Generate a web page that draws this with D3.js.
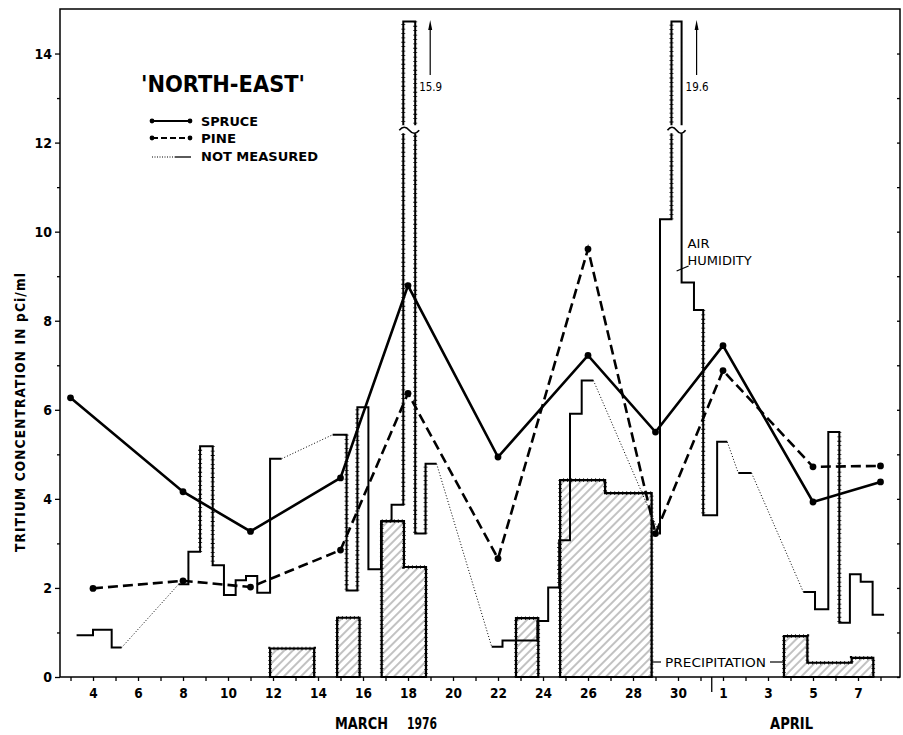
<!DOCTYPE html>
<html><head><meta charset="utf-8">
<script src="https://cdn.jsdelivr.net/npm/d3@7"></script>
<style>body{margin:0;background:#fff}svg{display:block}</style>
</head><body><svg id="c" width="903" height="735"></svg>
<script>
// Days are counted from 0 March 1976 (April 1 = 32)
const spruceDays   = [3, 8, 11, 15, 18, 22, 26, 29, 32, 36, 39];
const spruceValues = [6.27, 4.16, 3.27, 4.47, 8.79, 4.94, 7.22, 5.5, 7.44, 3.93, 4.38];
const pineDays     = [4, 8, 11, 15, 18, 22, 26, 29, 32, 36, 39];
const pineValues   = [1.99, 2.16, 2.02, 2.85, 6.37, 2.66, 9.61, 3.22, 6.88, 4.72, 4.74];

// Air humidity step series (start day, end day, value); gaps = not measured
const humStart = [3.27,4.0,4.83, 7.8,8.24,8.76,9.32,9.82,10.34,10.8,11.3,11.87,
  14.65,15.27,15.75,16.24,16.8,17.27,17.79,18.32,18.78,
  21.72,22.2,23.75,24.23,24.72,25.2,25.72,
  29.2,29.2,29.71,30.16,30.71,31.12,31.74, 32.68,
  35.57,36.09,36.68,37.17,37.64,38.12,38.65];
const humEnd = [4.0,4.83,5.27, 8.24,8.76,9.32,9.82,10.34,10.8,11.3,11.87,12.38,
  15.27,15.75,16.24,16.8,17.27,17.79,18.32,18.78,19.27,
  22.2,23.75,24.23,24.72,25.2,25.72,26.24,
  29.2,29.71,30.16,30.71,31.12,31.74,32.19, 33.27,
  36.09,36.68,37.17,37.64,38.12,38.65,39.16];
const humValue = [0.94,1.06,0.66, 2.08,2.81,5.18,2.51,1.84,2.17,2.27,1.89,4.9,
  5.44,1.94,6.06,2.42,3.5,3.87,15.9,3.22,4.79,
  0.68,0.82,1.26,2.01,3.07,5.91,6.66,
  3.2,10.28,19.6,8.86,8.24,3.63,5.28, 4.58,
  1.91,1.52,5.5,1.22,2.31,2.14,1.4];
const humTickedEdges = [8.76, 9.32, 15.27, 15.75, 17.79, 18.32, 18.78, 24.72, 29.71, 31.12, 37.17];

// Precipitation bars
const precStart = [11.87, 14.85, 16.83, 17.82, 22.8, 24.76, 26.76, 34.71, 35.75, 37.72];
const precEnd   = [13.83, 15.85, 17.82, 18.8, 23.79, 26.76, 28.83, 35.75, 37.72, 38.68];
const precValue = [0.64, 1.33, 3.5, 2.47, 1.32, 4.42, 4.13, 0.92, 0.32, 0.43];

const xTickDays   = [4,6,8,10,12,14,16,18,20,22,24,26,28,30,32,34,36,38];
const xTickLabels = ["4","6","8","10","12","14","16","18","20","22","24","26","28","30","1","3","5","7"];
const yTickValues = [0,2,4,6,8,10,12,14];

const FONT = '"DejaVu Sans Condensed","Liberation Sans Narrow","Liberation Sans",sans-serif';
const svg = d3.select('#c');
const x = d3.scaleLinear().domain([2.533, 39.867]).range([60, 900]);
const y = d3.scaleLinear().domain([0, 15]).range([677, 9]);
const CAP = 14.72, BREAK = 12.3;
const hy = v => y(Math.min(v, CAP));

// hatch
const defs = svg.append('defs');
const pat = defs.append('pattern').attr('id','hatch').attr('patternUnits','userSpaceOnUse')
  .attr('width',6).attr('height',6).attr('patternTransform','rotate(45)');
pat.append('line').attr('x1',1).attr('y1',0).attr('x2',1).attr('y2',6)
  .attr('stroke','#333').attr('stroke-width',0.6);

// frame
svg.append('rect').attr('x',x.range()[0]).attr('y',y.range()[1])
  .attr('width',x.range()[1]-x.range()[0]).attr('height',y.range()[0]-y.range()[1])
  .attr('fill','none').attr('stroke','#000').attr('stroke-width',1.5);

// axes
const gy = svg.append('g').attr('transform',`translate(${x.range()[0]},0)`)
  .call(d3.axisLeft(y).tickValues(yTickValues).tickSize(5).tickPadding(3).tickFormat(d3.format('d')));
const gy2 = svg.append('g').attr('transform',`translate(${x.range()[0]},0)`)
  .call(d3.axisLeft(y).tickValues(d3.range(1,15,2)).tickSize(3).tickFormat(''));
const gyr = svg.append('g').attr('transform',`translate(${x.range()[1]},0)`)
  .call(d3.axisLeft(y).tickValues(d3.range(0,15,1)).tickSize(3).tickFormat(''));
const gx = svg.append('g').attr('transform',`translate(0,${y.range()[0]})`)
  .call(d3.axisBottom(x).tickValues(xTickDays).tickSize(4).tickPadding(7).tickFormat((d,i)=>xTickLabels[i]));
const gx2 = svg.append('g').attr('transform',`translate(0,${y.range()[0]})`)
  .call(d3.axisBottom(x).tickValues(d3.range(3,40,2)).tickSize(4).tickFormat(''));
[gy,gy2,gyr,gx,gx2].forEach(g=>{
  g.select('.domain').remove();
  g.selectAll('line').attr('stroke','#000').attr('stroke-width',1.3);
  g.selectAll('text').attr('font-family',FONT).attr('fill','#000');
});
gy.selectAll('text').attr('font-size',14).attr('font-weight','bold');
gx.selectAll('text').attr('font-size',13.5).attr('font-weight','bold');
// month boundary tick
svg.append('line').attr('x1',x(31.5)).attr('x2',x(31.5)).attr('y1',y(0)).attr('y2',y(0)+15)
  .attr('stroke','#000').attr('stroke-width',1.3);

// precipitation
const groups = [];
precStart.forEach((s,i)=>{
  const b = {s, e:precEnd[i], v:precValue[i]};
  const g = groups[groups.length-1];
  if (g && Math.abs(g[g.length-1].e - s) < 0.02) g.push(b); else groups.push([b]);
});
const pl = d3.line().x(d=>x(d[0])).y(d=>y(d[1]));
groups.forEach(g=>{
  const pts = [[g[0].s,0]];
  g.forEach(b=>{ pts.push([b.s,b.v]); pts.push([b.e,b.v]); });
  pts.push([g[g.length-1].e,0]);
  svg.append('path').attr('d',pl(pts)+'Z').attr('fill','url(#hatch)')
    .attr('stroke','#000').attr('stroke-width',2.2);
  svg.append('path').attr('d',pl(pts)).attr('fill','none')
    .attr('stroke','#000').attr('stroke-width',3.6).attr('stroke-dasharray','0.8,3.2');
});

// air humidity
let solidD = '', run = false;
const dottedLinks = [];
const n = humStart.length;
for (let i=0;i<n;i++){
  const s=humStart[i], e=humEnd[i], v=humValue[i];
  solidD += (run ? 'L' : 'M') + x(s) + ',' + hy(v);
  solidD += 'L' + x(e) + ',' + hy(v);
  run = true;
  if (i<n-1 && Math.abs(humStart[i+1]-e) > 0.02){
    dottedLinks.push([[e,v],[humStart[i+1],humValue[i+1]]]);
    run = false;
  }
}
svg.append('path').attr('d',solidD).attr('fill','none').attr('stroke','#000')
  .attr('stroke-width',2).attr('stroke-linejoin','miter');
dottedLinks.forEach(l=>{
  svg.append('line').attr('x1',x(l[0][0])).attr('y1',hy(l[0][1]))
    .attr('x2',x(l[1][0])).attr('y2',hy(l[1][1]))
    .attr('stroke','#000').attr('stroke-width',1).attr('stroke-dasharray','1,2');
});
humTickedEdges.forEach(d=>{
  const i = humEnd.findIndex(e=>Math.abs(e-d)<0.02);
  if (i<0 || i>=n-1) return;
  svg.append('line').attr('x1',x(d)).attr('x2',x(d))
    .attr('y1',hy(humValue[i])).attr('y2',hy(humValue[i+1]))
    .attr('stroke','#000').attr('stroke-width',4).attr('stroke-dasharray','0.8,3.6');
});
// breaks & off-scale annotations
humValue.forEach((v,i)=>{
  if (v <= y.domain()[1]) return;
  const x0 = x(humStart[i]) - 4, x1 = x(humEnd[i]) + 4, yb = y(BREAK), w = x1-x0;
  svg.append('rect').attr('x',x0).attr('y',yb-4).attr('width',w).attr('height',8).attr('fill','#fff');
  svg.append('path').attr('d',`M${x0},${yb+1} q${w/4},-6 ${w/2},0 t${w/2},0`)
    .attr('fill','none').attr('stroke','#000').attr('stroke-width',1.6);
  const ax = x(humEnd[i]) + 15;
  svg.append('line').attr('x1',ax).attr('x2',ax).attr('y1',75).attr('y2',26)
    .attr('stroke','#000').attr('stroke-width',1.2);
  svg.append('path').attr('d',`M${ax-2},${30} L${ax},${20} L${ax+2},${30}Z`).attr('fill','#000');
  svg.append('text').attr('x',x(humEnd[i])+4).attr('y',91).text(d3.format('.1f')(v))
    .attr('font-family',FONT).attr('font-size',13).attr('textLength',23).attr('lengthAdjust','spacingAndGlyphs');
});

// spruce & pine
const line = d3.line().x(d=>x(d[0])).y(d=>y(d[1]));
const spr = spruceDays.map((d,i)=>[d,spruceValues[i]]);
const pin = pineDays.map((d,i)=>[d,pineValues[i]]);
svg.append('path').attr('d',line(spr)).attr('fill','none').attr('stroke','#000').attr('stroke-width',2.6);
svg.append('path').attr('d',line(pin)).attr('fill','none').attr('stroke','#000').attr('stroke-width',2.6)
  .attr('stroke-dasharray','10,5');
svg.selectAll('.ds').data(spr.concat(pin)).enter().append('circle')
  .attr('cx',d=>x(d[0])).attr('cy',d=>y(d[1])).attr('r',3.4).attr('fill','#000');

// labels
const T = (t, xx, yy, size, len, extra) => {
  const e = svg.append('text').attr('x',xx).attr('y',yy).text(t)
    .attr('font-family',FONT).attr('font-size',size).attr('fill','#000');
  if (len) e.attr('textLength',len).attr('lengthAdjust', extra || 'spacing');
  return e;
};
T("'NORTH-EAST'", 141, 92, 23, 164, 'spacingAndGlyphs').attr('font-weight','bold');
// legend
svg.append('line').attr('x1',152).attr('x2',190).attr('y1',121).attr('y2',121).attr('stroke','#000').attr('stroke-width',2.2);
svg.append('line').attr('x1',152).attr('x2',190).attr('y1',138).attr('y2',138).attr('stroke','#000').attr('stroke-width',2.2).attr('stroke-dasharray','6,3');
[[152,121],[190,121],[152,138],[190,138]].forEach(p=>svg.append('circle').attr('cx',p[0]).attr('cy',p[1]).attr('r',2.4).attr('fill','#000'));
svg.append('line').attr('x1',152).attr('x2',175).attr('y1',157).attr('y2',157).attr('stroke','#000').attr('stroke-width',1).attr('stroke-dasharray','1,1.5');
svg.append('line').attr('x1',175).attr('x2',191).attr('y1',157).attr('y2',157).attr('stroke','#000').attr('stroke-width',1.3);
T('SPRUCE', 201, 125.5, 12.5, 57, 'spacingAndGlyphs').attr('font-weight','bold');
T('PINE', 201, 142.5, 12.5, 35, 'spacingAndGlyphs').attr('font-weight','bold');
T('NOT MEASURED', 201, 161, 12.5, 117, 'spacingAndGlyphs').attr('font-weight','bold');

T('AIR', x(30.16)+6, 248, 12.5, 22, 'spacingAndGlyphs');
T('HUMIDITY', x(30.16)+6, 265, 12.5, 64, 'spacingAndGlyphs');
svg.append('line').attr('x1',x(30.16)-5).attr('y1',271).attr('x2',x(30.16)+7).attr('y2',266).attr('stroke','#000').attr('stroke-width',1.3);

T('PRECIPITATION', 665, 667, 13, 101, 'spacingAndGlyphs');
svg.append('line').attr('x1',x(28.83)).attr('x2',661).attr('y1',662).attr('y2',662).attr('stroke','#000').attr('stroke-width',1.2);
svg.append('line').attr('x1',770).attr('x2',x(34.71)).attr('y1',662).attr('y2',662).attr('stroke','#000').attr('stroke-width',1.2);

T('MARCH', 335, 729, 15, 53, 'spacingAndGlyphs').attr('font-weight','bold');
T('1976', 407, 729, 15, 30, 'spacingAndGlyphs').attr('font-weight','bold');
T('APRIL', 770, 729, 15, 43, 'spacingAndGlyphs').attr('font-weight','bold');

svg.append('text').attr('transform','translate(25,412.5) rotate(-90)').attr('text-anchor','middle')
  .text('TRITIUM  CONCENTRATION  IN  pCi/ml').attr('font-family',FONT).attr('font-size',13.5)
  .attr('textLength',279).attr('lengthAdjust','spacing').attr('font-weight','bold');
</script></body></html>
